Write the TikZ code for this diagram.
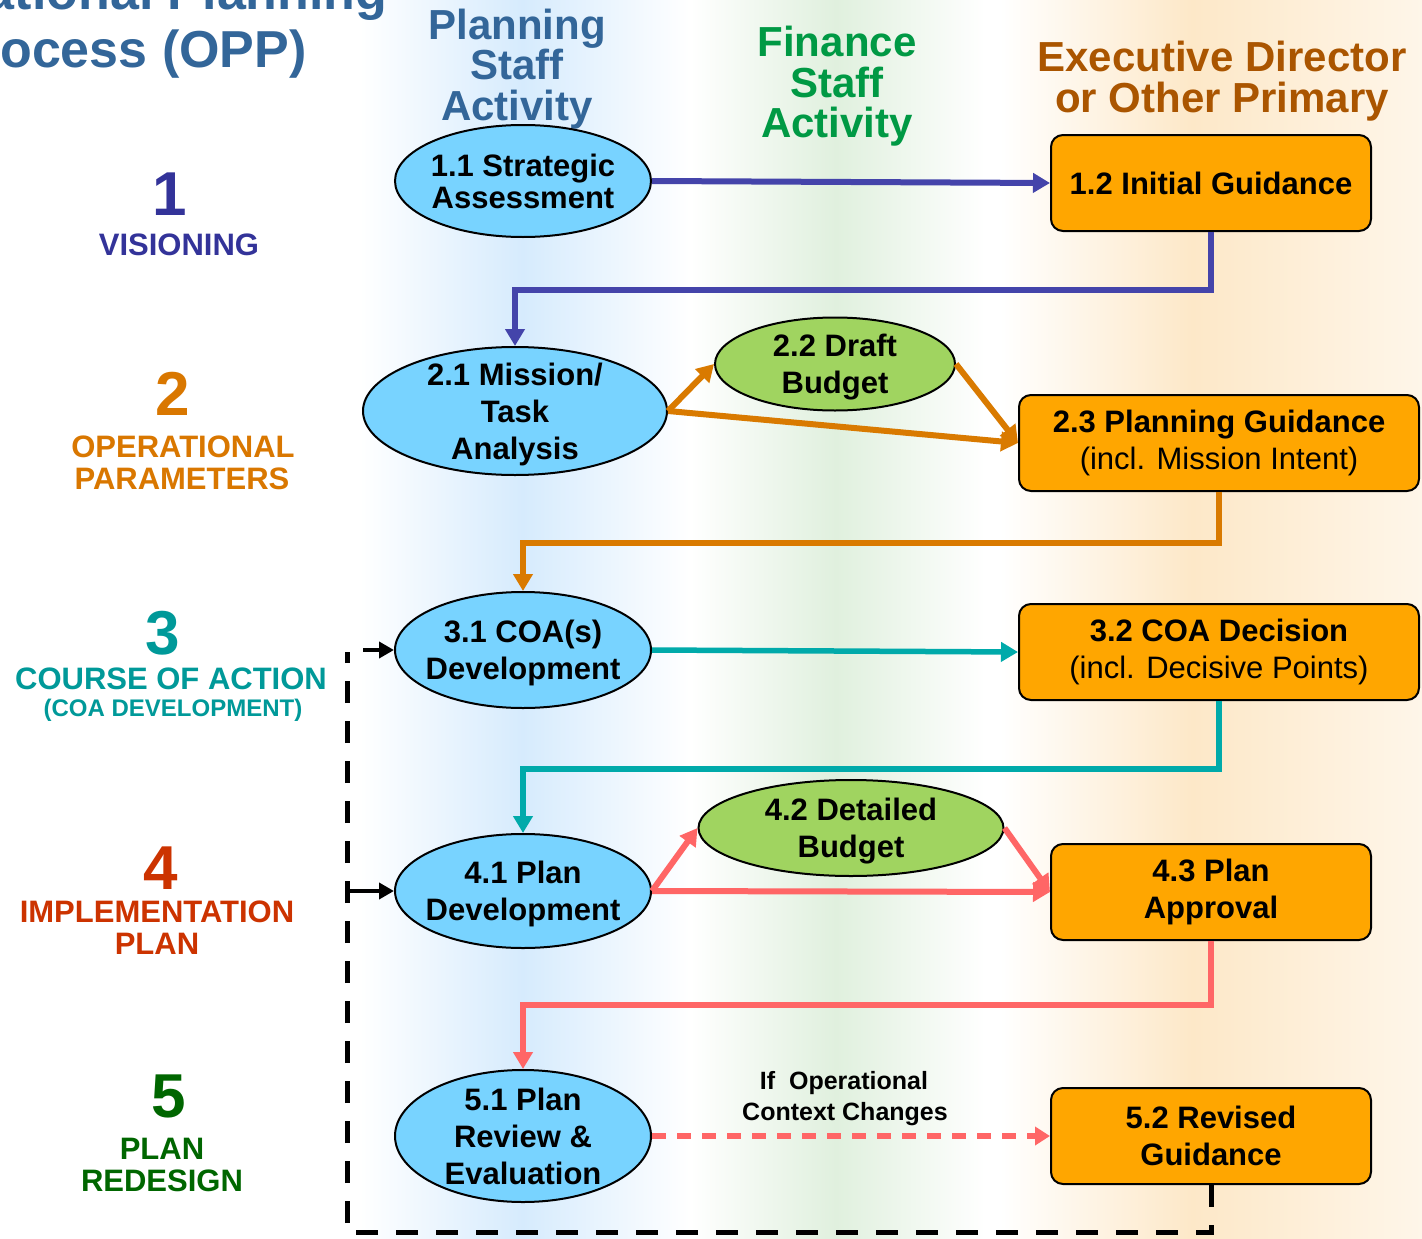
\documentclass[tikz,border=0pt]{standalone}
\usepackage{fontspec}
\setmainfont{Liberation Sans}
\usetikzlibrary{shapes.geometric,arrows.meta}
\definecolor{bandblue}{RGB}{214,235,253}
\definecolor{bandgreen}{RGB}{224,240,222}
\definecolor{bandorange}{RGB}{253,232,200}
\definecolor{ellblue}{RGB}{120,211,255}
\definecolor{ellgreen}{RGB}{160,212,96}
\definecolor{boxorange}{RGB}{255,166,0}
\definecolor{hblue}{RGB}{51,102,153}
\definecolor{hgreen}{RGB}{0,153,68}
\definecolor{horange}{RGB}{170,85,0}
\definecolor{cone}{RGB}{51,51,153}
\definecolor{ctwo}{RGB}{217,119,0}
\definecolor{cthree}{RGB}{0,153,153}
\definecolor{cfour}{RGB}{204,51,0}
\definecolor{cfive}{RGB}{0,102,0}
\definecolor{aone}{RGB}{68,68,170}
\definecolor{atwo}{RGB}{217,122,0}
\definecolor{athree}{RGB}{0,170,170}
\definecolor{afour}{RGB}{255,102,102}
\begin{document}
\begin{tikzpicture}[x=1pt,y=-1pt,
  ell/.style={ellipse, draw=black, line width=2pt, fill=ellblue, inner sep=0pt},
  gell/.style={ellipse, draw=black, line width=2pt, fill=ellgreen, inner sep=0pt},
  obox/.style={rectangle, rounded corners=12pt, draw=black, line width=2pt, fill=boxorange,
    minimum width=320pt, minimum height=96pt, align=center, inner sep=0pt,
    font=\fontsize{31}{37}\selectfont},
  ntxt/.style={align=center, inner sep=0pt, font=\fontsize{31}{37}\selectfont\bfseries},
  head/.style={anchor=base, inner sep=0pt, font=\fontsize{42}{40}\selectfont\bfseries},
  ttl/.style={anchor=base, inner sep=0pt, text=hblue, font=\fontsize{52}{58}\selectfont\bfseries},
  bignum/.style={anchor=base, inner sep=0pt, font=\fontsize{62}{62}\selectfont\bfseries},
  phase/.style={anchor=base, inner sep=0pt, font=\fontsize{31}{32}\selectfont\bfseries},
  tip/.style={-{Triangle[length=17pt,width=19pt]}},
  cone/.style={tip, draw=aone, line width=6pt},
  ctwo/.style={tip, draw=atwo, line width=6pt},
  cthree/.style={tip, draw=athree, line width=5.5pt},
  cfour/.style={tip, draw=afour, line width=6pt},
  cfived/.style={-{Triangle[length=15pt,width=18pt]}, draw=afour, line width=6pt, dash pattern=on 14pt off 11pt},
  blk/.style={-{Triangle[length=15pt,width=16pt]}, draw=black, line width=4.5pt},
  blkd/.style={draw=black, line width=5pt, dash pattern=on 22pt off 18pt}
]
\useasboundingbox (0,0) rectangle (1422,1239);
\clip (0,0) rectangle (1422,1239);
% background bands
\fill[white] (0,0) rectangle (1422,1239);
\shade[left color=white,right color=bandblue] (360,0) rectangle (522,1239);
\shade[left color=bandblue,right color=white] (522,0) rectangle (690,1239);
\shade[left color=white,right color=bandgreen] (690,0) rectangle (836,1239);
\shade[left color=bandgreen,right color=white] (836,0) rectangle (985,1239);
\shade[left color=white,right color=bandorange] (1000,0) rectangle (1192,1239);
\shade[left color=bandorange,right color=white!60!bandorange] (1192,0) rectangle (1422,1239);

% title (cut off at top/left, as in the reference)
\node[ttl] (title1) at (126,10) {Operational Planning};
\node[ttl] (title2) at (126,68) {Process (OPP)};

% column headers
\node[head,text=hblue] (hp1) at (517,40) {Planning};
\node[head,text=hblue] (hp2) at (517,80) {Staff};
\node[head,text=hblue] (hp3) at (517,120) {Activity};
\node[head,text=hgreen] (hf1) at (837,57) {Finance};
\node[head,text=hgreen] (hf2) at (837,97) {Staff};
\node[head,text=hgreen] (hf3) at (837,137) {Activity};
\node[head,text=horange] (he1) at (1222,72) {Executive Director};
\node[head,text=horange] (he2) at (1222,112) {or Other Primary};

% phase labels
\node[bignum,text=cone] (p1n) at (170,215) {1};
\node[phase,text=cone] (p1a) at (179,255) {VISIONING};
\node[bignum,text=ctwo] (p2n) at (173,415) {2};
\node[phase,text=ctwo] (p2a) at (183,457) {OPERATIONAL};
\node[phase,text=ctwo] (p2b) at (182,489) {PARAMETERS};
\node[bignum,text=cthree] (p3n) at (163,654) {3};
\node[phase,text=cthree] (p3a) at (171,689) {COURSE OF ACTION};
\node[phase,text=cthree,font=\fontsize{24}{26}\selectfont\bfseries] (p3b) at (173,716) {(COA DEVELOPMENT)};
\node[bignum,text=cfour] (p4n) at (161,889) {4};
\node[phase,text=cfour] (p4a) at (157,922) {IMPLEMENTATION};
\node[phase,text=cfour] (p4b) at (157,954) {PLAN};
\node[bignum,text=cfive] (p5n) at (169,1117) {5};
\node[phase,text=cfive] (p5a) at (162,1159) {PLAN};
\node[phase,text=cfive] (p5b) at (162,1191) {REDESIGN};

% nodes
\node[ell,minimum width=256pt,minimum height=112pt] (n11) at (523,181) {};
\node[ntxt,font=\fontsize{31}{32}\selectfont\bfseries] (t11) at (n11.center) {1.1 Strategic\\Assessment};
\node[obox] (n12) at (1211,183) {\bfseries 1.2 Initial Guidance};

\node[ell,minimum width=304pt,minimum height=128pt] (n21) at (515,411) {};
\node[ntxt] (t21) at ([yshift=-3pt]n21.center) {2.1 Mission/\\Task\\Analysis};
\node[gell,minimum width=240pt,minimum height=93pt] (n22) at (835,364) {};
\node[ntxt] (t22) at ([yshift=-3pt]n22.center) {2.2 Draft\\Budget};
\node[obox,minimum width=400pt] (n23) at (1219,443) {\textbf{2.3 Planning Guidance}\\(incl. Mission Intent)};

\node[ell,minimum width=256pt,minimum height=116pt] (n31) at (523,650) {};
\node[ntxt] (t31) at ([yshift=-3pt]n31.center) {3.1 COA(s)\\Development};
\node[obox,minimum width=400pt] (n32) at (1219,652) {\textbf{3.2 COA Decision}\\(incl. Decisive Points)};

\node[ell,minimum width=256pt,minimum height=114pt] (n41) at (523,891) {};
\node[ntxt] (t41) at ([yshift=-3pt]n41.center) {4.1 Plan\\Development};
\node[gell,minimum width=305pt,minimum height=96pt] (n42) at (851,828) {};
\node[ntxt] (t42) at ([yshift=-3pt]n42.center) {4.2 Detailed\\Budget};
\node[obox] (n43) at (1211,892) {\bfseries 4.3 Plan\\\bfseries Approval};

\node[ell,minimum width=256pt,minimum height=132pt] (n51) at (523,1136) {};
\node[ntxt] (t51) at (n51.center) {5.1 Plan\\Review \&\\Evaluation};
\node[obox] (n52) at (1211,1136) {\bfseries 5.2 Revised\\\bfseries Guidance};

% label on dashed connector
\node[anchor=base,inner sep=0pt,font=\fontsize{25}{26}\selectfont\bfseries] (lif1) at (844,1089) {If\ \ Operational};
\node[anchor=base,inner sep=0pt,font=\fontsize{25}{26}\selectfont\bfseries] (lif2) at (845,1120) {Context Changes};

% connectors
\draw[cone] (n11.east) -- (n12.west);
\draw[cone] (n12.south) -- ++(0,58) -| (n21.north);

\draw[ctwo] (n21.east) -- (n22.west);
\draw[ctwo] (n22.east) -- (n23.west);
\draw[ctwo] (n21.east) -- (n23.west);
\draw[ctwo] (n23.south) -- ++(0,51) -| (n31.north);

\draw[cthree] (n31.east) -- (n32.west);
\draw[cthree] (n32.south) -- ++(0,68) -| (n41.north);

\draw[cfour] (n41.east) -- (n42.west);
\draw[cfour] (n42.east) -- (n43.west);
\draw[cfour] (n41.east) -- (n43.west);
\draw[cfour] (n43.south) -- ++(0,64) -| (n51.north);

\draw[cfived] (n51.east) -- (n52.west);

\coordinate (dcorner) at (347,1232);
\coordinate (dtop) at (347,652);
\draw[blkd] (n52.south) |- (dcorner) -- (dtop);
\coordinate (a3) at (363,650);
\coordinate (a4) at (347,891);
\draw[blk] (a3) -- (n31.west);
\draw[blk] (a4) -- (n41.west);
\end{tikzpicture}
\end{document}
